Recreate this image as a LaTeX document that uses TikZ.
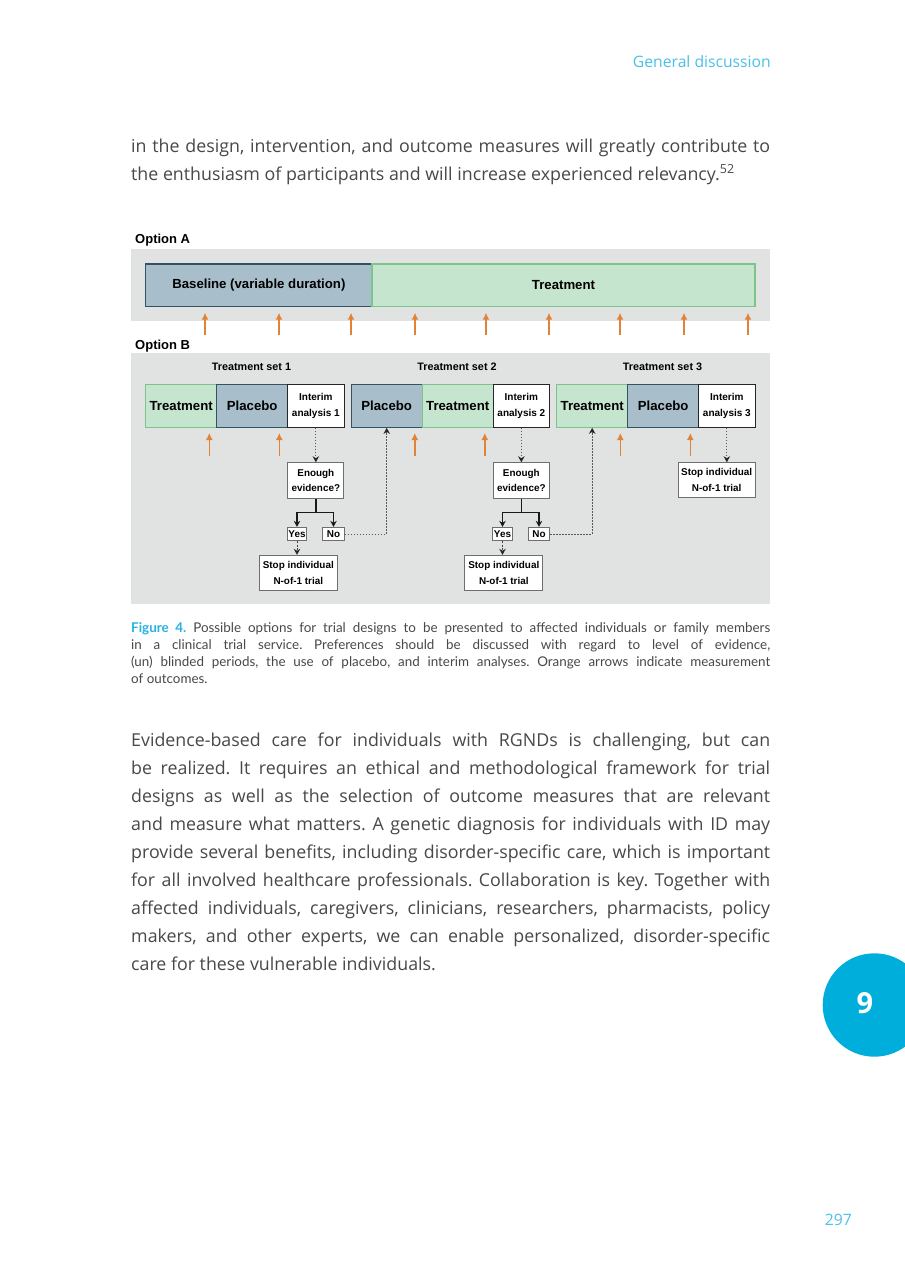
\documentclass[tikz,border=0pt]{standalone}
\usepackage{fontspec}
\setmainfont{Lato}
\newfontfamily\bodyfont{Open Sans}
\newfontfamily\diafont{Liberation Sans}
\usetikzlibrary{arrows.meta}
\definecolor{panelgray}{RGB}{225,227,227}
\definecolor{placefill}{RGB}{168,191,203}
\definecolor{placeedge}{RGB}{52,82,98}
\definecolor{treatfill}{RGB}{198,229,207}
\definecolor{treatedge}{RGB}{125,196,138}
\definecolor{measorange}{RGB}{226,130,52}
\definecolor{bodygray}{RGB}{72,72,72}
\definecolor{headcyan}{RGB}{75,192,232}
\definecolor{figcyan}{RGB}{40,178,228}
\definecolor{circcyan}{RGB}{0,174,219}
\definecolor{flowedge}{RGB}{110,110,110}
\tikzset{
  seg/.style={rectangle, inner sep=0pt, minimum height=43pt, font=\diafont\bfseries\fontsize{13.2}{15}\selectfont},
  placebox/.style={seg, fill=placefill, draw=placeedge, line width=1.1pt},
  treatbox/.style={seg, fill=treatfill, draw=treatedge, line width=1.1pt},
  interimbox/.style={seg, fill=white, draw=black!85, line width=0.8pt, align=center, minimum width=56.3pt, font=\diafont\bfseries\fontsize{10}{16.7}\selectfont},
  flowbox/.style={rectangle, inner sep=0pt, fill=white, draw=flowedge, line width=0.9pt, align=center, font=\diafont\bfseries\fontsize{9.9}{15.8}\selectfont},
  setlabel/.style={anchor=base, inner sep=0pt, font=\diafont\bfseries\fontsize{10.8}{13}\selectfont},
  optlabel/.style={anchor=base west, inner sep=0pt, font=\diafont\bfseries\fontsize{13}{15}\selectfont},
  measarrow/.style={draw=measorange, line width=1.5pt, -{Latex[width=7pt,length=7pt]}},
  dotarrow/.style={draw=black!65, line width=1pt, dash pattern=on 1.5pt off 1.5pt, -{Stealth[width=6.5pt,length=6pt,color=black!85]}},
  dasharrow/.style={draw=black!75, line width=1pt, dash pattern=on 2pt off 1.6pt, -{Stealth[width=6.5pt,length=6pt,color=black!85]}},
  stemline/.style={draw=black!90, line width=1.5pt},
  forkarrow/.style={draw=black!90, line width=1.3pt, -{Stealth[width=6.5pt,length=6pt]}},
  bodytext/.style={anchor=base west, inner sep=0pt, text width=639pt, align=justify, text=bodygray, font=\bodyfont\fontsize{17.8}{28}\selectfont},
  captext/.style={anchor=base west, inner sep=0pt, text width=639pt, align=justify, text=bodygray, font=\fontsize{13.4}{17}\selectfont},
}
\begin{document}
\hyphenpenalty=10000
\frenchspacing
\begin{tikzpicture}[x=1pt,y=-1pt]
\useasboundingbox (0,0) rectangle (905,1280);
\fill[white] (0,0) rectangle (905,1280);

% header and page furniture
\node[anchor=base east, inner sep=0pt, text=headcyan, font=\bodyfont\fontsize{15.7}{19}\selectfont] (head) at (771,67) {General discussion};
\node[anchor=base east, inner sep=0pt, text=headcyan, font=\bodyfont\fontsize{15.7}{19}\selectfont] (pnum) at (852,1225) {297};
\node[circle, fill=circcyan, minimum size=103.4pt, inner sep=0pt] (chap) at (874.4,1005) {};
\node[inner sep=0pt, text=white, font=\bodyfont\bfseries\fontsize{29}{34}\selectfont] (chapnum) at (865,1003) {9};

% body text top
\node[bodytext] (para1) at (131,152) {in the design, intervention, and outcome measures will greatly contribute to\linebreak the enthusiasm of participants and will increase experienced relevancy.\textsuperscript{52}};

% Option A
\node[optlabel] (optA) at (135,243.7) {Option A};
\fill[panelgray] (131,249.3) rectangle (770,320.7);
\node[placebox, minimum width=226.3pt, minimum height=42.7pt] (baseA) at (258.85,285.35) {Baseline (variable duration)};
\node[treatbox, minimum width=383pt, minimum height=42.7pt] (treatA) at (563.5,285.35) {Treatment};
\foreach \ax in {205,279,351,415,486,549,620,684,748}
  \draw[measarrow] (\ax,335) -- (\ax,312.7);

% Option B
\node[optlabel] (optB) at (135,349.7) {Option B};
\fill[panelgray] (131,352.7) rectangle (770,604);
\node[setlabel] (set1) at (251.5,370.9) {Treatment set 1};
\node[setlabel] (set2) at (457,370.9) {Treatment set 2};
\node[setlabel] (set3) at (662.5,370.9) {Treatment set 3};

% set 1
\node[treatbox, minimum width=71pt] (tr1) at (181.2,405.8) {Treatment};
\node[placebox, minimum width=71pt] (pl1) at (252.2,405.8) {Placebo};
\node[interimbox] (int1) at (315.85,405.8) {Interim\\analysis 1};
% set 2
\node[placebox, minimum width=71pt] (pl2) at (386.7,405.8) {Placebo};
\node[treatbox, minimum width=71pt] (tr2) at (457.7,405.8) {Treatment};
\node[interimbox] (int2) at (521.35,405.8) {Interim\\analysis 2};
% set 3
\node[treatbox, minimum width=71pt] (tr3) at (592.2,405.8) {Treatment};
\node[placebox, minimum width=71pt] (pl3) at (663.2,405.8) {Placebo};
\node[interimbox] (int3) at (726.85,405.8) {Interim\\analysis 3};

\foreach \ax in {209.3,279.3,414.8,484.8,620.3,690.3}
  \draw[measarrow] (\ax,456) -- (\ax,433);

% flow 1
\node[flowbox, minimum width=56pt, minimum height=35.6pt] (enough1) at (315.85,480.5) {Enough\\evidence?};
\node[flowbox, minimum width=19.4pt, minimum height=13.4pt] (yes1) at (297,534) {Yes};
\node[flowbox, minimum width=21.6pt, minimum height=13.4pt] (no1) at (333.5,534) {No};
\node[flowbox, minimum width=78pt, minimum height=35.4pt] (stop1) at (298.3,573) {Stop individual\\N-of-1 trial};
\draw[dotarrow] (int1.south) -- (enough1.north);
\draw[stemline] (enough1.south) -- ++(0,13.4) coordinate (fork1);
\draw[forkarrow] (fork1) -| (yes1.north);
\draw[forkarrow] (fork1) -| (no1.north);
\draw[dasharrow] (yes1.south) -- (yes1.south |- stop1.north);
\draw[dotarrow] (no1.east) -| (pl2.south);

% flow 2
\node[flowbox, minimum width=56pt, minimum height=35.6pt] (enough2) at (521.35,480.5) {Enough\\evidence?};
\node[flowbox, minimum width=19.4pt, minimum height=13.4pt] (yes2) at (502.5,534) {Yes};
\node[flowbox, minimum width=21.6pt, minimum height=13.4pt] (no2) at (539,534) {No};
\node[flowbox, minimum width=78pt, minimum height=35.4pt] (stop2) at (503.8,573) {Stop individual\\N-of-1 trial};
\draw[dotarrow] (int2.south) -- (enough2.north);
\draw[stemline] (enough2.south) -- ++(0,13.4) coordinate (fork2);
\draw[forkarrow] (fork2) -| (yes2.north);
\draw[forkarrow] (fork2) -| (no2.north);
\draw[dasharrow] (yes2.south) -- (yes2.south |- stop2.north);
\draw[dotarrow] (no2.east) -| (tr3.south);

% flow 3
\node[flowbox, minimum width=76.7pt, minimum height=34.6pt] (stop3) at (716.7,480) {Stop individual\\N-of-1 trial};
\draw[dotarrow] (int3.south) -- (int3.south |- stop3.north);

% caption
\node[captext] (cap) at (131,632) {\textcolor{figcyan}{\bfseries Figure 4.} Possible options for trial designs to be presented to affected individuals or family members\linebreak in a clinical trial service. Preferences should be discussed with regard to level of evidence,\linebreak (un) blinded periods, the use of placebo, and interim analyses. Orange arrows indicate measurement\linebreak of outcomes.};

% body text bottom
\node[bodytext] (para2) at (131,746) {Evidence-based care for individuals with RGNDs is challenging, but can\linebreak be realized. It requires an ethical and methodological framework for trial\linebreak designs as well as the selection of outcome measures that are relevant\linebreak and measure what matters. A genetic diagnosis for individuals with ID may\linebreak provide several benefits, including disorder-specific care, which is important\linebreak for all involved healthcare professionals. Collaboration is key. Together with\linebreak affected individuals, caregivers, clinicians, researchers, pharmacists, policy\linebreak makers, and other experts, we can enable personalized, disorder-specific\linebreak care for these vulnerable individuals.};
\end{tikzpicture}
\end{document}
